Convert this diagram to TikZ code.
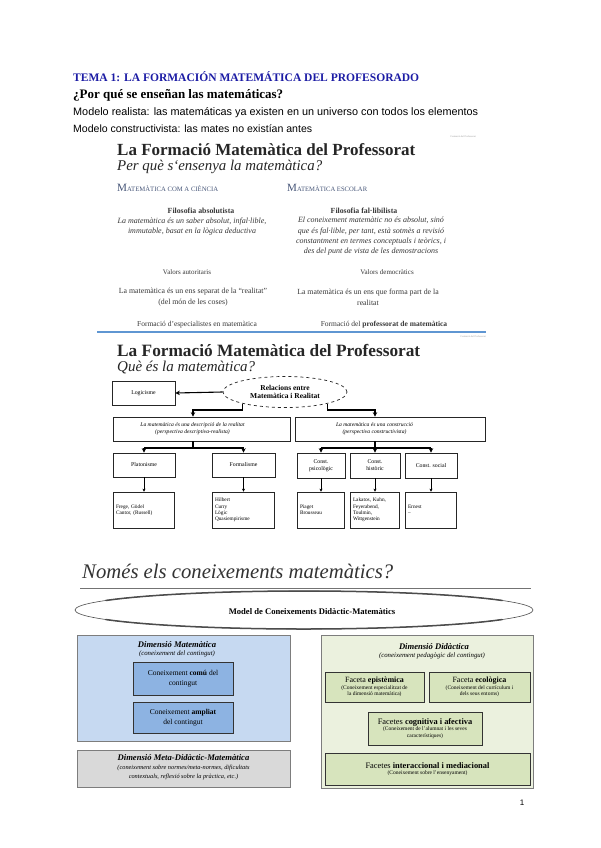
\documentclass[tikz,border=0pt]{standalone}
\usepackage{fontspec}
\setmainfont{Liberation Serif}
\newfontfamily\arialf{Liberation Sans}
\usepackage{graphicx}
\usetikzlibrary{shapes.geometric,arrows.meta,calc}
\definecolor{headblue}{RGB}{28,28,165}
\definecolor{slidetxt}{RGB}{55,55,55}
\definecolor{capsblue}{RGB}{70,85,120}
\definecolor{lineblue}{RGB}{95,150,210}
\definecolor{bluebg}{RGB}{198,217,241}
\definecolor{blueinner}{RGB}{141,179,226}
\definecolor{greybg}{RGB}{217,217,217}
\definecolor{greenbg}{RGB}{235,241,222}
\definecolor{greeninner}{RGB}{215,228,189}
\definecolor{boxline}{RGB}{125,125,125}
\newcommand{\fitw}[2]{\resizebox{#1}{!}{#2}}
\newcommand{\fs}[2]{\fontsize{#1}{#2}\selectfont}
\begin{document}
\begin{tikzpicture}[x=1pt,y=-1pt,
  lbl/.style={inner sep=0pt, align=center, text=slidetxt},
  sbox/.style={draw=black!85, line width=0.7pt, inner sep=1pt, align=center, font=\fs{5.8}{6.8}},
  ebox/.style={draw=black!85, line width=0.7pt, inner sep=0pt},
  lbox/.style={draw=black!85, line width=0.7pt, inner sep=2.5pt, align=left, font=\fs{5.3}{6.2}},
  conn/.style={line width=1.1pt, -{Stealth[length=4.5pt,width=4.5pt]}},
  hline/.style={line width=1.1pt},
  tconn/.style={line width=0.35pt, -{Stealth[length=3pt,width=3pt]}},
  bigbox/.style={draw=boxline, line width=0.6pt, inner sep=0pt},
  facet/.style={draw=black!80, line width=0.8pt, fill=greeninner, inner sep=0pt, align=center},
  dimbox/.style={draw=black!80, line width=0.8pt, fill=blueinner, inner sep=0pt, align=center, font=\fs{7.5}{9.5}}
]
\fill[white] (0,0) rectangle (600,848);
\useasboundingbox (0,0) rectangle (600,848);

% ---------- top text ----------
\node[anchor=base west, inner sep=0, text=headblue, font=\bfseries] (t1) at (73,82) {\fitw{346pt}{TEMA 1: LA FORMACIÓN MATEMÁTICA DEL PROFESORADO}};
\node[anchor=base west, inner sep=0, font=\bfseries] (t2) at (73,98.5) {\fitw{210pt}{¿Por qué se enseñan las matemáticas?}};
\node[anchor=base west, inner sep=0, font=\arialf] (t3) at (73,115) {\fitw{405pt}{Modelo realista: las matemáticas ya existen en un universo con todos los elementos}};
\node[anchor=base west, inner sep=0, font=\arialf] (t4) at (73,132) {\fitw{239pt}{Modelo constructivista: las mates no existían antes}};

% ---------- slide 1 ----------
\node[anchor=east, inner sep=0, text=black!40, font=\fs{2.5}{3}] (s1tiny) at (476,137) {Formació del Professorat};
\node[anchor=base west, inner sep=0, text=black!85, font=\bfseries] (s1t) at (117,156) {\fitw{298pt}{La Formació Matemàtica del Professorat}};
\node[anchor=base west, inner sep=0, text=black!85, font=\itshape] (s1s) at (117,170.5) {\fitw{205pt}{Per què s`ensenya la matemàtica?}};
\node[anchor=base west, inner sep=0, text=capsblue] (s1h1) at (117,191) {\fitw{101pt}{M{\fs{6}{6}ATEMÀTICA COM A CIÈNCIA}}};
\node[anchor=base west, inner sep=0, text=capsblue] (s1h2) at (287,191) {\fitw{80pt}{M{\fs{6}{6}ATEMÀTICA ESCOLAR}}};

\node[lbl, font=\bfseries\fs{7.8}{9}] (fa) at (201,211) {Filosofia absolutista};
\node[lbl, font=\itshape\fs{8}{10.8}] (fat) at (192,226.5) {La matemàtica és un saber absolut, infal·lible,\\immutable, basat en la lògica deductiva};
\node[lbl, font=\fs{7}{8}] (va) at (187,272) {Valors autoritaris};
\node[lbl, font=\fs{7.8}{10.8}] (ea) at (193,297.5) {La matemàtica és un ens separat de la “realitat”\\(del món de les coses)};
\node[lbl, font=\fs{7.5}{9}] (fe) at (197,325) {Formació d'especialistes en matemàtica};

\node[lbl, font=\bfseries\fs{7.8}{9}] (ff) at (364,211) {Filosofia fal·libilista};
\node[lbl, font=\itshape\fs{8}{10.3}] (fft) at (371,236.5) {El coneixement matemàtic no és absolut, sinó\\que és fal·lible, per tant, està sotmès a revisió\\constantment en termes conceptuals i teòrics, i\\des del punt de vista de les demostracions};
\node[lbl, font=\fs{7}{8}] (vd) at (387,272) {Valors democràtics};
\node[lbl, font=\fs{7.8}{10.8}] (ed) at (368,297.5) {La matemàtica és un ens que forma part de la\\realitat};
\node[lbl, font=\fs{7.5}{9}] (fp) at (384,325) {Formació del \textbf{professorat de matemàtica}};
\draw[lineblue, line width=1.3pt] (97,332) -- (486,332);

% ---------- slide 2 ----------
\node[anchor=east, inner sep=0, text=black!40, font=\fs{2.5}{3}] (s2tiny) at (486,337) {Formació del Professorat};
\node[anchor=base west, inner sep=0, text=black!85, font=\bfseries] (s2t) at (117,356.5) {\fitw{303pt}{La Formació Matemàtica del Professorat}};
\node[anchor=base west, inner sep=0, text=black!85, font=\itshape] (s2s) at (117,371) {\fitw{138pt}{Què és la matemàtica?}};

\node[sbox, minimum width=63pt, minimum height=24pt] (logi) at (143.5,393) {Logicisme};
\node[ellipse, draw=black!85, dashed, line width=0.7pt, minimum width=124pt, minimum height=31pt, inner sep=0pt, align=center, font=\bfseries\fs{7.5}{8.8}] (ell) at (285,392) {Relacions entre\\Matemàtica i Realitat};
\node[ebox, minimum width=177pt, minimum height=24pt] (real) at (201.5,429) {};
\node[inner sep=0, align=center, font=\itshape\fs{5.6}{7}] (realt) at (192.5,429) {La matemàtica és una descripció de la realitat\\(perspectiva descriptiva-realista)};
\node[ebox, minimum width=190pt, minimum height=24pt] (cons) at (390,429) {};
\node[inner sep=0, align=center, font=\itshape\fs{5.6}{7}] (const) at (374.5,429) {La matemàtica és una construcció\\(perspectiva constructivista)};

\node[sbox, minimum width=62pt, minimum height=24pt] (plat) at (144,465) {Platonisme};
\node[sbox, minimum width=63pt, minimum height=24pt] (form) at (243.5,465) {Formalisme};
\node[sbox, minimum width=48pt, minimum height=25pt] (cpsi) at (321,465.5) {Const.\\psicològic};
\node[sbox, minimum width=50pt, minimum height=25pt] (chis) at (375,465.5) {Const.\\històric};
\node[sbox, minimum width=52pt, minimum height=25pt] (csoc) at (431,465.5) {Const. social};

\node[lbox, text width=56pt, minimum height=36pt] (platb) at (144,510) {Frege, Gödel\\Cantor, (Russell)};
\node[lbox, text width=57pt, minimum height=36pt] (formb) at (243.5,510) {Hilbert\\Curry\\Lògic\\Quasiempirisme};
\node[lbox, text width=42pt, minimum height=36pt] (cpsib) at (321,510) {Piaget\\Brousseau};
\node[lbox, text width=44pt, minimum height=36pt] (chisb) at (375,510) {Lakatos, Kuhn,\\Feyerabend,\\Toulmin,\\Wittgenstein};
\node[lbox, text width=46pt, minimum height=36pt] (csocb) at (431,510) {Ernest\\–};

\coordinate (ra) at (193,410);
\coordinate (ca) at (375,410);
\coordinate (rb) at (193,448);
\coordinate (cb) at (375,448);
\draw[conn] (ell.west) -- (logi.east);
\draw[conn] (ell.195) |- (ra) -- (ra |- real.north);
\draw[conn] (ell.-15) |- (ca) -- (ca |- cons.north);
\draw[hline] (rb |- real.south) -- (rb);
\draw[hline] (plat.north |- rb) -- (form.north |- rb);
\draw[conn] (plat.north |- rb) -- (plat.north);
\draw[conn] (form.north |- rb) -- (form.north);
\draw[hline] (cpsi.north |- cb) -- (csoc.north |- cb);
\draw[conn] (cb |- cons.south) -- (chis.north);
\draw[conn] (cpsi.north |- cb) -- (cpsi.north);
\draw[conn] (csoc.north |- cb) -- (csoc.north);
\draw[tconn] (plat.south) -- (platb.north);
\draw[tconn] (form.south) -- (formb.north);
\draw[tconn] (cpsi.south) -- (cpsib.north);
\draw[tconn] (chis.south) -- (chisb.north);
\draw[tconn] (csoc.south) -- (csocb.north);

% ---------- section 3 ----------
\node[anchor=base west, inner sep=0, text=black!80, font=\itshape] (s3t) at (82,578.5) {\fitw{311pt}{Només els coneixements matemàtics?}};
\draw[black!55, line width=0.6pt] (80,588) -- (531,588);
\node[ellipse, draw=black!70, line width=0.6pt, minimum width=458pt, minimum height=38pt, inner sep=0pt] (mod) at (304,610) {};
\draw[black!70, line width=1.5pt] (502.3,619.5) arc[start angle=30, end angle=150, x radius=229, y radius=19];
\draw[black!70, line width=1.5pt] (105.7,600.5) arc[start angle=210, end angle=330, x radius=229, y radius=19];
\node[inner sep=0, font=\bfseries\fs{8.6}{10}] (modt) at (312,612) {Model de Coneixements Didàctic-Matemàtics};

\node[bigbox, fill=bluebg, minimum width=213pt, minimum height=106pt] (dmat) at (183.5,688) {};
\node[inner sep=0, align=center, font=\bfseries\itshape\fs{8.6}{10}] (dmatt) at (177,644.5) {Dimensió Matemàtica};
\node[inner sep=0, align=center, font=\itshape\fs{6.8}{8}] (dmats) at (177,653.5) {(coneixement del contingut)};
\node[dimbox, minimum width=100pt, minimum height=33pt] (ccom) at (183,678.5) {Coneixement \textbf{comú} del\\contingut};
\node[dimbox, minimum width=100pt, minimum height=31pt] (camp) at (183,717.5) {Coneixement \textbf{ampliat}\\del contingut};

\node[bigbox, fill=greybg, minimum width=213pt, minimum height=37pt] (dmeta) at (183.5,768.5) {};
\node[inner sep=0, align=center, font=\bfseries\itshape\fs{8.6}{10}] (dmetat) at (183.5,758) {Dimensió Meta-Didàctic-Matemàtica};
\node[inner sep=0, align=center, font=\itshape\fs{6.3}{8.6}] (dmetas) at (183.5,772.5) {(coneixement sobre normes/meta-normes, dificultats\\contextuals, reflexió sobre la pràctica, etc.)};

\node[bigbox, fill=greenbg, minimum width=212pt, minimum height=153pt] (ddid) at (427,711.5) {};
\node[inner sep=0, align=center, font=\bfseries\itshape\fs{8.6}{10}] (ddidt) at (434,647) {Dimensió Didàctica};
\node[inner sep=0, align=center, font=\itshape\fs{6.8}{8}] (ddids) at (432,656) {(coneixement pedagògic del contingut)};

\node[facet, minimum width=99pt, minimum height=30pt, font=\fs{5.5}{6.4}] (fepi) at (374.5,687) {{\fs{8}{9.5}Faceta \textbf{epistèmica}}\\(Coneixement especialitzat de\\la dimensió matemàtica)};
\node[facet, minimum width=101pt, minimum height=30pt, font=\fs{5.5}{6.4}] (feco) at (479.5,687) {{\fs{8}{9.5}Faceta \textbf{ecològica}}\\(Coneixement del currículum i\\dels seus entorns)};
\node[facet, minimum width=114pt, minimum height=33pt, font=\fs{5.5}{6.6}] (fcog) at (425,728.5) {{\fs{8.4}{10}Facetes \textbf{cognitiva i afectiva}}\\(Coneixement de l'alumnat i les seves\\característiques)};
\node[facet, minimum width=205pt, minimum height=32pt, font=\fs{5.5}{6.6}] (fint) at (427.5,769) {{\fs{8.4}{10}Facetes \textbf{interaccional i mediacional}}\\(Coneixement sobre l'ensenyament)};

\node[inner sep=0, font=\arialf\fs{8}{9}] (pg) at (522,803) {1};
\end{tikzpicture}
\end{document}
